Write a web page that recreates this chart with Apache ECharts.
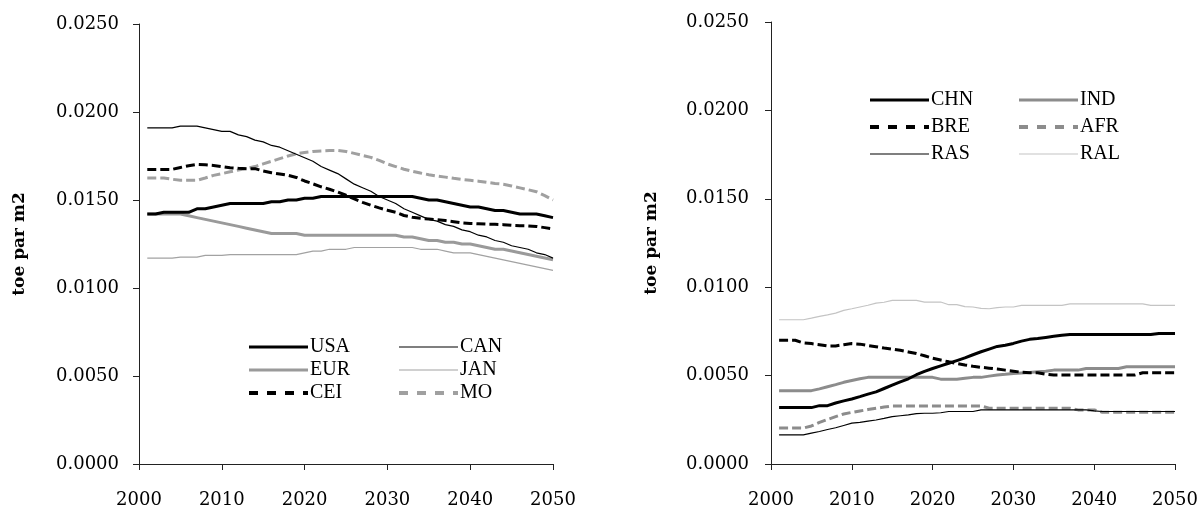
<!DOCTYPE html>
<html>
<head>
<meta charset="utf-8">
<script src="https://cdn.jsdelivr.net/npm/echarts@6/dist/echarts.min.js"></script>
<style>
html,body{margin:0;padding:0;background:#fff;}
#chart{width:1204px;height:509px;}
</style>
</head>
<body>
<div id="chart"></div>
<script>
// ---- DATA ----
const years = [];
for (let y = 2001; y <= 2050; y++) years.push(y);
const xTicks = [2000, 2010, 2020, 2030, 2040, 2050];
const yTicks = [0, 0.005, 0.010, 0.015, 0.020, 0.025];
const yAxisTitle = 'toe par m2';

// left panel
const USA = [0.0142,0.0142,0.0143,0.0143,0.0143,0.0143,0.0145,0.0145,0.0146,0.0147,
  0.0148,0.0148,0.0148,0.0148,0.0148,0.0149,0.0149,0.0150,0.0150,0.0151,
  0.0151,0.0152,0.0152,0.0152,0.0152,0.0152,0.0152,0.0152,0.0152,0.0152,
  0.0152,0.0152,0.0152,0.0151,0.0150,0.0150,0.0149,0.0148,0.0147,0.0146,
  0.0146,0.0145,0.0144,0.0144,0.0143,0.0142,0.0142,0.0142,0.0141,0.0140];
const CAN = [0.0191,0.0191,0.0191,0.0191,0.0192,0.0192,0.0192,0.0191,0.0190,0.0189,
  0.0189,0.0187,0.0186,0.0184,0.0183,0.0181,0.0180,0.0178,0.0176,0.0174,
  0.0172,0.0169,0.0167,0.0165,0.0162,0.0159,0.0157,0.0155,0.0152,0.0150,
  0.0148,0.0145,0.0143,0.0141,0.0139,0.0138,0.0136,0.0135,0.0133,0.0132,
  0.0130,0.0129,0.0127,0.0126,0.0124,0.0123,0.0122,0.0120,0.0119,0.0117];
const EUR = [0.0142,0.0142,0.0142,0.0142,0.0142,0.0141,0.0140,0.0139,0.0138,0.0137,
  0.0136,0.0135,0.0134,0.0133,0.0132,0.0131,0.0131,0.0131,0.0131,0.0130,
  0.0130,0.0130,0.0130,0.0130,0.0130,0.0130,0.0130,0.0130,0.0130,0.0130,
  0.0130,0.0129,0.0129,0.0128,0.0127,0.0127,0.0126,0.0126,0.0125,0.0125,
  0.0124,0.0123,0.0122,0.0122,0.0121,0.0120,0.0119,0.0118,0.0117,0.0116];
const JAN = [0.0117,0.0117,0.0117,0.0117,0.01175,0.01175,0.01175,0.01185,0.01185,0.01185,
  0.0119,0.0119,0.0119,0.0119,0.0119,0.0119,0.0119,0.0119,0.0119,0.0120,
  0.0121,0.0121,0.0122,0.0122,0.0122,0.0123,0.0123,0.0123,0.0123,0.0123,
  0.0123,0.0123,0.0123,0.0122,0.0122,0.0122,0.0121,0.0120,0.0120,0.0120,
  0.0119,0.0118,0.0117,0.0116,0.0115,0.0114,0.0113,0.0112,0.0111,0.0110];
const CEI = [0.01674,0.01674,0.01674,0.01674,0.01685,0.01695,0.01702,0.01700,0.01696,0.01690,
  0.01683,0.01680,0.01678,0.01678,0.01665,0.01655,0.01648,0.01640,0.01628,0.01608,
  0.01592,0.01575,0.01561,0.01545,0.01527,0.01506,0.01487,0.01470,0.01455,0.01442,
  0.01430,0.01412,0.01402,0.01396,0.01392,0.01388,0.01383,0.01377,0.01370,0.01367,
  0.01365,0.01363,0.01362,0.01360,0.01356,0.01354,0.01353,0.01350,0.01343,0.01336];
const MO = [0.01625,0.01625,0.01625,0.01618,0.01612,0.01612,0.01612,0.01625,0.01640,0.01650,
  0.01660,0.01670,0.01680,0.01690,0.01705,0.01720,0.01735,0.01750,0.01762,0.01770,
  0.01776,0.01779,0.01781,0.01781,0.01776,0.01765,0.01753,0.01742,0.01725,0.01705,
  0.01690,0.01675,0.01663,0.01653,0.01644,0.01636,0.01630,0.01623,0.01617,0.01612,
  0.01607,0.01600,0.01594,0.01590,0.01580,0.01569,0.01558,0.01547,0.01525,0.01500];

// right panel
const CHN = [0.00319,0.00319,0.00319,0.00319,0.00319,0.00330,0.00330,0.00345,0.00357,0.00368,
  0.00381,0.00395,0.00408,0.00427,0.00446,0.00465,0.00482,0.00505,0.00524,0.00540,
  0.00555,0.00570,0.00585,0.00600,0.00618,0.00635,0.00650,0.00665,0.00672,0.00682,
  0.00695,0.00705,0.00710,0.00716,0.00722,0.00728,0.00732,0.00732,0.00732,0.00732,
  0.00732,0.00732,0.00732,0.00732,0.00732,0.00732,0.00732,0.00738,0.00738,0.00738];
const IND = [0.00415,0.00415,0.00415,0.00415,0.00415,0.00425,0.00437,0.00449,0.00462,0.00472,
  0.00482,0.00490,0.00490,0.00490,0.00490,0.00490,0.00490,0.00490,0.00490,0.00490,
  0.00480,0.00480,0.00480,0.00485,0.00490,0.00490,0.00497,0.00503,0.00507,0.00512,
  0.00515,0.00518,0.00522,0.00525,0.00531,0.00531,0.00531,0.00531,0.00540,0.00540,
  0.00540,0.00540,0.00540,0.00550,0.00550,0.00550,0.00550,0.00550,0.00550,0.00550];
const BRE = [0.00700,0.00700,0.00700,0.00685,0.00681,0.00675,0.00668,0.00668,0.00675,0.00681,
  0.00678,0.00670,0.00663,0.00656,0.00650,0.00643,0.00634,0.00625,0.00612,0.00598,
  0.00588,0.00578,0.00569,0.00560,0.00553,0.00547,0.00542,0.00537,0.00531,0.00525,
  0.00519,0.00516,0.00516,0.00508,0.00503,0.00503,0.00503,0.00503,0.00503,0.00503,
  0.00503,0.00503,0.00503,0.00503,0.00503,0.00516,0.00516,0.00516,0.00516,0.00516];
const AFR = [0.00203,0.00203,0.00203,0.00203,0.00215,0.00235,0.00252,0.00268,0.00283,0.00292,
  0.00300,0.00308,0.00315,0.00322,0.00328,0.00328,0.00328,0.00328,0.00328,0.00328,
  0.00328,0.00328,0.00328,0.00328,0.00328,0.00328,0.00315,0.00315,0.00315,0.00315,
  0.00315,0.00315,0.00315,0.00315,0.00315,0.00315,0.00315,0.00306,0.00306,0.00306,
  0.00293,0.00293,0.00293,0.00293,0.00293,0.00293,0.00293,0.00293,0.00293,0.00293];
const RAS = [0.00165,0.00165,0.00165,0.00165,0.00175,0.00184,0.00195,0.00205,0.00218,0.00231,
  0.00235,0.00242,0.00249,0.00258,0.00268,0.00273,0.00278,0.00285,0.00287,0.00287,
  0.00290,0.00297,0.00297,0.00297,0.00297,0.00306,0.00306,0.00306,0.00306,0.00306,
  0.00306,0.00306,0.00306,0.00306,0.00306,0.00306,0.00306,0.00306,0.00306,0.00300,
  0.00297,0.00297,0.00297,0.00297,0.00297,0.00297,0.00297,0.00297,0.00297,0.00297];
const RAL = [0.00816,0.00816,0.00816,0.00816,0.00825,0.00835,0.00843,0.00853,0.00869,0.00878,
  0.00888,0.00898,0.00910,0.00915,0.00925,0.00925,0.00925,0.00925,0.00916,0.00916,
  0.00916,0.00901,0.00901,0.00890,0.00888,0.00880,0.00878,0.00885,0.00888,0.00888,
  0.00897,0.00897,0.00897,0.00897,0.00897,0.00897,0.00906,0.00906,0.00906,0.00906,
  0.00906,0.00906,0.00906,0.00906,0.00906,0.00906,0.00897,0.00897,0.00897,0.00897];

// ---- STYLE ----
const styles = {
  USA: {color:'#000000', width:3, type:'solid'},
  CAN: {color:'#000000', width:1.2, type:'solid'},
  EUR: {color:'#9a9a9a', width:3, type:'solid'},
  JAN: {color:'#a2a2a2', width:1.2, type:'solid'},
  CEI: {color:'#000000', width:3, type:[9,4]},
  MO:  {color:'#a0a0a0', width:3, type:[9,4]},
  CHN: {color:'#000000', width:3, type:'solid'},
  IND: {color:'#8c8c8c', width:3, type:'solid'},
  BRE: {color:'#000000', width:3, type:[9,4]},
  AFR: {color:'#8c8c8c', width:3, type:[9,4]},
  RAS: {color:'#000000', width:1.2, type:'solid'},
  RAL: {color:'#c4c4c4', width:1.2, type:'solid'}
};
const seriesData = {USA, CAN, EUR, JAN, CEI, MO, CHN, IND, BRE, AFR, RAS, RAL};

function mkSeries(name, idx) {
  const s = styles[name];
  return {
    name: name, type: 'line', xAxisIndex: idx, yAxisIndex: idx,
    data: years.map((y, i) => [y, seriesData[name][i]]),
    showSymbol: false, symbol: 'none', smooth: false,
    lineStyle: {color: s.color, width: s.width, type: s.type, cap: 'butt'},
    itemStyle: {color: s.color},
    emphasis: {disabled: true}
  };
}

const fontNum = 'DejaVu Serif';
const fontLeg = 'Liberation Serif';

function xAxis(gi) {
  return {
    type: 'value', gridIndex: gi, min: xTicks[0], max: xTicks[xTicks.length-1], interval: 10,
    axisLine: {show: true, onZero: false, lineStyle: {color: '#222', width: 1}},
    axisTick: {show: true, inside: false, length: 6, lineStyle: {color: '#222'}},
    splitLine: {show: false},
    axisLabel: {margin: 27, color: '#000', fontFamily: fontNum, fontSize: 18, formatter: v => String(v)}
  };
}
function yAxis(gi, margin) {
  return {
    type: 'value', gridIndex: gi, min: yTicks[0], max: yTicks[yTicks.length-1], interval: 0.005,
    name: yAxisTitle, nameLocation: 'middle', nameGap: 111,
    nameTextStyle: {fontFamily: fontNum, fontWeight: 'bold', fontSize: 17, color: '#000'},
    axisLine: {show: true, lineStyle: {color: '#222', width: 1}},
    axisTick: {show: true, inside: false, length: 6, lineStyle: {color: '#222'}},
    splitLine: {show: false},
    axisLabel: {margin: margin, color: '#000', fontFamily: fontNum, fontSize: 18, formatter: v => v.toFixed(4)}
  };
}
function legend(names, left, top, gap) {
  return {
    orient: 'vertical', left: left, top: top, padding: 0, itemGap: gap,
    itemWidth: 59, itemHeight: 14, selectedMode: false,
    textStyle: {fontFamily: fontLeg, fontSize: 20, color: '#000', lineHeight: 20, padding: [0,0,0,-3]},
    data: names.map(n => ({name: n,
      itemStyle: {color: 'rgba(0,0,0,0)', borderColor: 'rgba(0,0,0,0)', borderWidth: 0},
      lineStyle: {width: styles[n].width + (styles[n].type === 'solid' ? 0 : 1), color: styles[n].color,
                  type: styles[n].type === 'solid' ? 'solid' : [9, 9]}}))
  };
}

const chart = echarts.init(document.getElementById('chart'), null, {renderer: 'canvas'});
chart.setOption({
  animation: false,
  backgroundColor: '#fff',
  grid: [
    {left: 139, right: 1204 - 553, top: 24, bottom: 509 - 468},
    {left: 771, right: 1204 - 1175, top: 22, bottom: 509 - 466}
  ],
  xAxis: [xAxis(0), xAxis(1)],
  yAxis: [yAxis(0, 20), yAxis(1, 22)],
  legend: [
    legend(['USA','EUR','CEI'], 247, 337, 3),
    legend(['CAN','JAN','MO'], 397, 337, 3),
    legend(['CHN','BRE','RAS'], 868, 90, 7),
    legend(['IND','AFR','RAL'], 1017, 90, 7)
  ],
  series: [
    mkSeries('JAN',0), mkSeries('EUR',0), mkSeries('MO',0), mkSeries('CAN',0), mkSeries('CEI',0), mkSeries('USA',0),
    mkSeries('RAL',1), mkSeries('IND',1), mkSeries('AFR',1), mkSeries('RAS',1), mkSeries('BRE',1), mkSeries('CHN',1)
  ]
});
</script>
</body>
</html>
